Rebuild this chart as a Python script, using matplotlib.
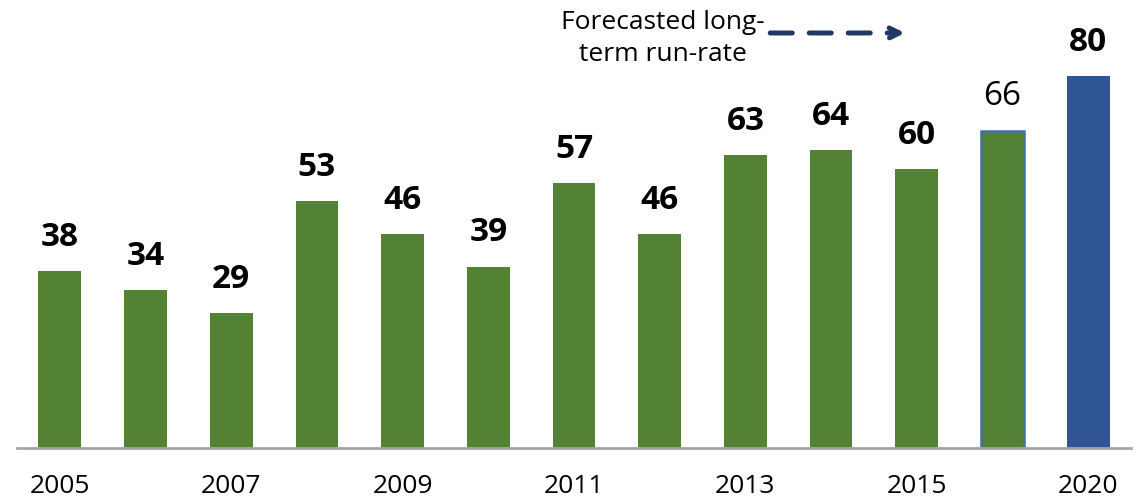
import matplotlib.pyplot as plt
import numpy as np

anos = ['2005', '2006', '2007', '2008', '2009', '2010', '2011', '2012',
        '2013', '2014', '2015', '2016', '2020']
valores = [38, 34, 29, 53, 46, 39, 57, 46, 63, 64, 60, 66, 80]
# la barra de 2016 se dibuja algo mas alta que su etiqueta en el original
alturas = [38, 34, 29, 53, 46, 39, 57, 46, 63, 64, 60, 68.2, 80]
etiquetas_eje = ['2005', '', '2007', '', '2009', '', '2011', '', '2013', '',
                 '2015', '', '2020']
etiquetas_negrita = [True] * 13
etiquetas_negrita[11] = False

verde = '#548235'
azul = '#2F5597'
colores = [verde] * 12 + [azul]

plt.rcParams['font.family'] = ['Open Sans', 'DejaVu Sans']

figura = plt.figure(figsize=(11.48, 5.04), dpi=100)
eje = figura.add_axes([17 / 1148, 56 / 504, 1114 / 1148, 442 / 504])

x = np.arange(len(anos))
barras = eje.bar(x, alturas, width=0.5, color=colores, zorder=2)
barras[11].set_edgecolor('#41719C')
barras[11].set_linewidth(1.8)

for i, v in enumerate(valores):
    eje.text(x[i], alturas[i] + 3.7, str(v), ha='center', va='bottom', fontsize=24,
             fontweight='bold' if etiquetas_negrita[i] else 'normal',
             color='black')

eje.set_xlim(-0.5, len(anos) - 0.5)
eje.set_ylim(0, 95)
eje.set_xticks(x)
eje.set_xticklabels(etiquetas_eje, fontsize=19)
eje.tick_params(axis='x', length=0, pad=19)
eje.set_yticks([])
for lado in ['top', 'right', 'left']:
    eje.spines[lado].set_visible(False)
eje.spines['bottom'].set_color('#A6A6A6')
eje.spines['bottom'].set_linewidth(2)

# anotacion de la tasa de largo plazo
eje.text(7.04, 88.0, 'Forecasted long-\nterm run-rate', ha='center', va='center',
         multialignment='center', fontsize=19, linespacing=1.35)
eje.annotate('', xy=(9.86, 89.2), xytext=(8.29, 89.2),
             arrowprops=dict(arrowstyle='-|>', color='#1F3864', lw=3.6,
                             linestyle=(0, (4.4, 3.4)), mutation_scale=18,
                             shrinkA=0, shrinkB=0))

plt.savefig('out.png', dpi=100)
plt.close()
